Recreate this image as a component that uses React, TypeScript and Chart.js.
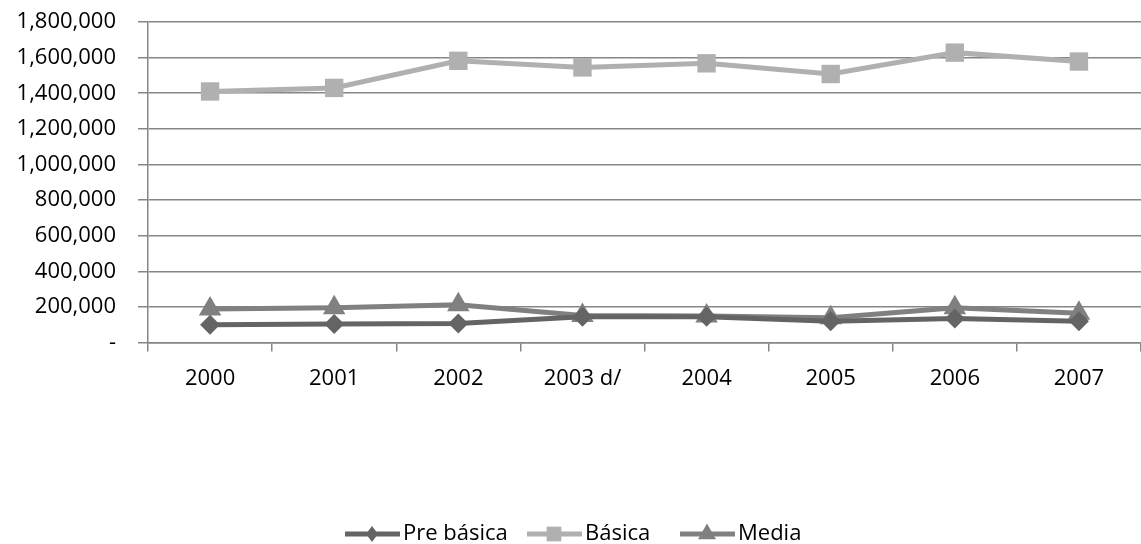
import React, { useEffect, useRef } from "react";
import { Chart, registerables } from "chart.js";

Chart.register(...registerables);

const categories = ["2000", "2001", "2002", "2003 d/", "2004", "2005", "2006", "2007"];
const preBasica = [100000, 105000, 107000, 145000, 145000, 120000, 135000, 120000];
const basica = [1410000, 1430000, 1582000, 1545000, 1568000, 1508000, 1628000, 1578000];
const media = [188000, 195000, 212000, 152000, 150000, 140000, 196000, 165000];
const yTicks = [0, 200000, 400000, 600000, 800000, 1000000, 1200000, 1400000, 1600000, 1800000];

const FONT = "'Open Sans', 'Noto Sans', sans-serif";
const FONT_SIZE = 22;
const seriesStyle = [
  { label: "Pre básica", data: preBasica, color: "#646464", point: "rectRot", radius: 10 },
  { label: "Básica", data: basica, color: "#b0b0b0", point: "rect", radius: 13 },
  { label: "Media", data: media, color: "#808080", point: "triangle", radius: 13 },
];

function drawMarker(ctx: CanvasRenderingContext2D, style: string, r: number, x: number, y: number) {
  ctx.beginPath();
  if (style === "rect") {
    const s = Math.SQRT1_2 * r;
    ctx.rect(x - s, y - s, 2 * s, 2 * s);
  } else if (style === "rectRot") {
    ctx.moveTo(x, y - r);
    ctx.lineTo(x + r * 0.75, y);
    ctx.lineTo(x, y + r);
    ctx.lineTo(x - r * 0.75, y);
    ctx.closePath();
  } else {
    ctx.moveTo(x, y - r);
    ctx.lineTo(x + r * 0.866, y + r * 0.5);
    ctx.lineTo(x - r * 0.866, y + r * 0.5);
    ctx.closePath();
  }
  ctx.fill();
}

const legendPlugin = {
  id: "customLegend",
  afterDraw(chart: any) {
    const ctx = chart.ctx;
    const y = 534;
    const positions = [345, 527, 680];
    ctx.save();
    ctx.font = `${FONT_SIZE}px ${FONT}`;
    ctx.textBaseline = "middle";
    seriesStyle.forEach((s, i) => {
      const x0 = positions[i];
      ctx.strokeStyle = s.color;
      ctx.lineWidth = 5;
      ctx.beginPath();
      ctx.moveTo(x0, y);
      ctx.lineTo(x0 + 55, y);
      ctx.stroke();
      ctx.fillStyle = s.color;
      drawMarker(ctx, s.point, s.radius * 0.8, x0 + 27, y);
      ctx.fillStyle = "#000";
      ctx.fillText(s.label, x0 + 58, y);
    });
    ctx.restore();
  },
};

export default function App() {
  const ref = useRef<HTMLCanvasElement>(null);
  useEffect(() => {
    if (!ref.current) return;
    const chart = new Chart(ref.current, {
      type: "line",
      data: {
        labels: categories,
        datasets: seriesStyle.map((s) => ({
          label: s.label,
          data: s.data,
          borderColor: s.color,
          backgroundColor: s.color,
          borderWidth: 5,
          pointStyle: s.point as any,
          pointRadius: s.radius,
          pointBorderWidth: 0,
          pointBackgroundColor: s.color,
          tension: 0,
          clip: false as any,
        })),
      },
      options: {
        animation: false,
        responsive: false,
        maintainAspectRatio: false,
        layout: { autoPadding: false, padding: { top: 0, right: -7, bottom: 138, left: 0 } },
        plugins: { legend: { display: false }, tooltip: { enabled: false } },
        scales: {
          x: {
            offset: true,
            grid: { drawOnChartArea: false, color: "#868686", lineWidth: 1.5, tickLength: 9, offset: true },
            border: { color: "#868686", width: 1.5 },
            ticks: { color: "#000", font: { family: FONT, size: FONT_SIZE }, padding: 14, maxRotation: 0 },
          },
          y: {
            min: 0,
            max: 1800000,
            afterBuildTicks: (scale: any) => {
              scale.ticks = yTicks.map((v) => ({ value: v }));
            },
            afterFit: (scale: any) => {
              scale.width = 148;
              scale.paddingTop = 22;
              scale.paddingBottom = 13;
            },
            grid: { color: "#868686", lineWidth: 1.5, tickLength: 10 },
            border: { color: "#868686", width: 1.5 },
            ticks: {
              color: "#000",
              font: { family: FONT, size: FONT_SIZE },
              padding: 22,
              callback: (v: any) => (Number(v) === 0 ? "-" : Number(v).toLocaleString("en-US")),
            },
          },
        },
      },
      plugins: [legendPlugin],
    });
    return () => chart.destroy();
  }, []);
  return (
    <div style={{ position: "fixed", left: 0, top: 0, width: 1141, height: 544, background: "#fff" }}>
      <canvas ref={ref} width={1141} height={544} style={{ width: 1141, height: 544 }} />
    </div>
  );
}
